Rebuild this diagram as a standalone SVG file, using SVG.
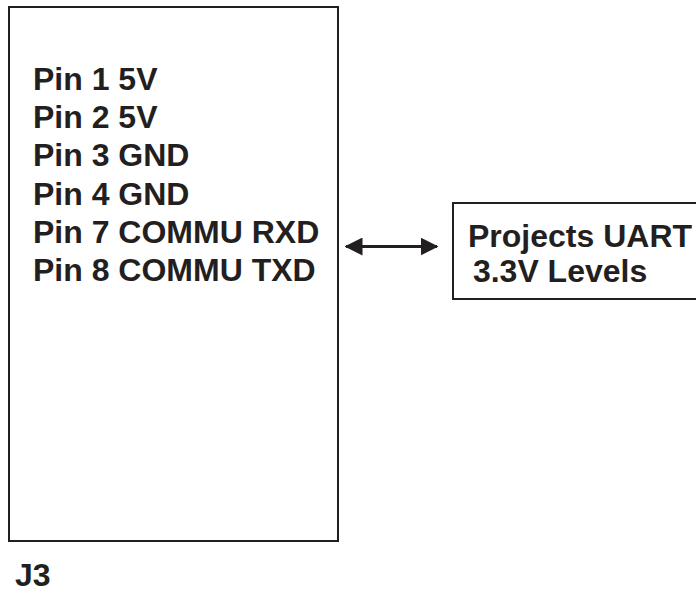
<svg xmlns="http://www.w3.org/2000/svg" width="696" height="592" viewBox="0 0 696 592">
<style>
.box{fill:#fff;stroke:#231f20;stroke-width:2}
.t{font-family:"Liberation Sans",Arial,sans-serif;font-weight:bold;font-size:32px;fill:#231f20}
.conn{stroke:#231f20;stroke-width:3;fill:none}
</style>
<defs>
<marker id="ah" markerWidth="6" markerHeight="6" refX="5.5" refY="3" orient="auto-start-reverse" markerUnits="strokeWidth">
<path d="M0,0 L6,3 L0,6 Z" fill="#231f20"/>
</marker>
</defs>
<rect width="696" height="592" fill="#fff"/>
<g id="j3">
<rect class="box" x="9" y="7" width="329" height="534"/>
<text class="t" x="33" y="90">Pin 1 5V</text>
<text class="t" x="33" y="128.2">Pin 2 5V</text>
<text class="t" x="33" y="166.4">Pin 3 GND</text>
<text class="t" x="33" y="204.6">Pin 4 GND</text>
<text class="t" x="33" y="242.5">Pin 7 COMMU RXD</text>
<text class="t" x="33" y="280.5">Pin 8 COMMU TXD</text>
<text class="t" x="15" y="586">J3</text>
</g>
<g id="uart">
<rect class="box" x="453" y="203" width="300" height="96"/>
<text class="t" x="468" y="246.5">Projects UART</text>
<text class="t" x="464" y="281.5" xml:space="preserve" style="white-space:pre"> 3.3V Levels</text>
</g>
<g id="connectors">
<line class="conn" x1="346" y1="246.5" x2="437" y2="246.5" marker-start="url(#ah)" marker-end="url(#ah)"/>
</g>
</svg>
